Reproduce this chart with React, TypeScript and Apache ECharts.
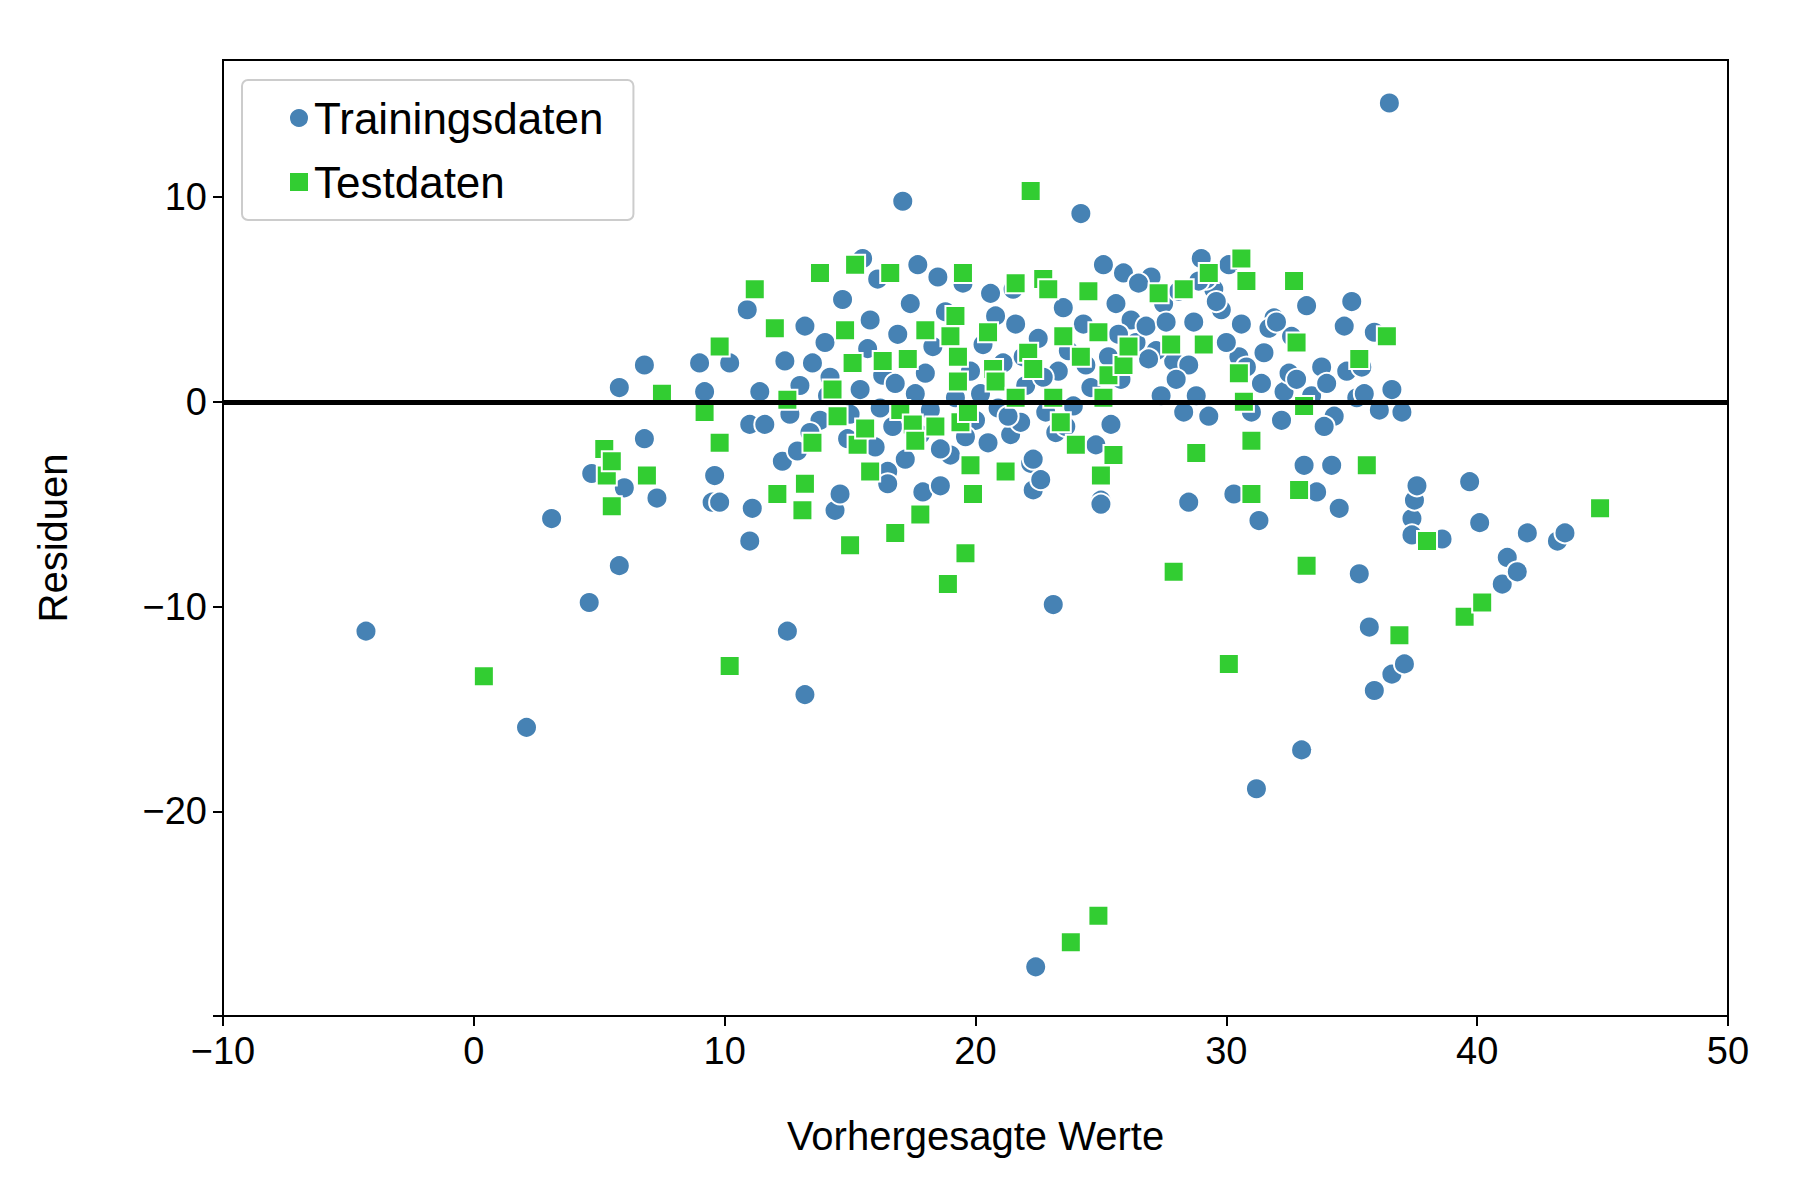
import React, { useEffect, useRef } from "react";
import * as echarts from "echarts";

// Trainingsdaten: [vorhergesagt, residuum]
const trainData: number[][] = [
  [-4.3, -11.2], [2.1, -15.9], [3.1, -5.7], [4.6, -9.8], [4.7, -3.5], [5.8, -8], [5.8, 0.7], [6, -4.2],
  [6.8, 1.8], [6.8, -1.8], [7.3, -4.7], [9, 1.9], [9.2, 0.5], [9.5, -4.9], [9.6, -3.6], [9.8, -4.9],
  [10.2, 1.9], [10.9, 4.5], [11, -1.1], [11, -6.8], [11.1, -5.2], [11.4, 0.5], [11.6, -1.1], [12.3, -2.9],
  [12.5, -11.2], [12.4, 2], [12.9, -2.4], [13.2, -14.3], [13.2, 3.7], [13.5, 1.9], [14, 2.9], [14.4, -5.3],
  [14.6, -4.5], [14.7, 5], [15.5, 7], [15.8, 4], [16.1, 6], [16.5, -3.4], [16.5, -4], [17.1, 9.8],
  [17.4, 4.8], [17.7, 6.7], [17.9, -4.4], [18, 1.4], [18.5, 6.1], [18.6, -4.1], [19.5, 5.8], [20.5, -2],
  [20.6, 5.3], [20.8, 4.2], [21.4, -1.6], [21.6, 3.8], [21.5, 5.5], [22.2, -3], [22.3, -2.8], [22.3, -4.3],
  [22.4, -27.6], [22.6, -3.8], [23.1, -9.9], [23.2, -1.5], [23.5, 4.6], [24.2, 9.2], [25, -4.8], [25, -5],
  [25.1, 6.7], [25.4, -1.1], [25.6, 4.8], [25.9, 6.3], [26.2, 4], [27, 6.1], [27.5, 4.8], [27.9, 2],
  [28.3, -0.5], [28.5, -4.9], [28.5, 1.8], [28.8, 0.3], [29, 7], [29.3, -0.7], [29.5, 5.5], [29.8, 4.5],
  [30.3, -4.5], [30.5, 2.2], [31.2, -18.9], [31.3, -5.8], [31.5, 2.4], [31.9, 4.1], [32.2, -0.9], [32.3, 0.5],
  [33, -17], [33.1, -3.1], [33.2, 4.7], [33.6, -4.4], [33.8, 1.7], [34.2, -3.1], [34.3, -0.7], [34.5, -5.2],
  [34.7, 3.7], [35, 4.9], [35.3, -8.4], [35.7, -11], [35.9, -14.1], [35.9, 3.4], [36.1, -0.4], [36.5, 14.6],
  [36.6, 0.6], [36.6, -13.3], [37, -0.5], [37.1, -12.8], [37.4, -5.7], [37.4, -6.5], [37.5, -4.8], [37.6, -4.1],
  [38.6, -6.7], [39.7, -3.9], [40.1, -5.9], [41, -8.9], [41.2, -7.6], [41.6, -8.3], [42, -6.4], [43.2, -6.8],
  [43.5, -6.4],
  // dichter Kern
  [12.6, -0.6], [13, 0.8], [13.8, -0.9], [14.2, 1.2], [14.9, -1.8], [15.4, 0.6], [15.7, 2.6], [16, -2.2],
  [16.3, 1.3], [16.7, -1.2], [16.9, 3.3], [17.2, -2.8], [17.6, 0.4], [18.2, -0.4], [18.3, 2.7], [18.8, 4.4],
  [19, -2.6], [19.2, 0.2], [19.8, 1.5], [20, -0.9], [20.3, 2.8], [20.9, -0.3], [21.1, 1.9], [21.8, -1], [22, 0.8],
  [22.5, 3.1], [22.8, -0.5], [23.3, 1.5], [23.7, 2.5], [23.9, -0.2], [24.3, 3.8], [24.6, 0.7], [24.8, -2.1],
  [25.3, 2.2], [25.8, 1.1], [26.4, 2.9], [26.8, 3.7], [27.2, 2.5], [27.6, 3.9], [28, 1.1], [28.1, 5.4],
  [28.7, 3.9], [29.2, 6], [30, 2.9], [30.8, 1.7], [31, -0.5], [31.7, 3.6], [32.5, 1.4], [32.6, 3.2],
  [33.4, 0.3], [34, 0.9], [34.8, 1.5], [35.2, 0.2], [35.5, 0.4], [32, 3.9], [30.1, 6.7], [26.5, 5.8],
  [13.4, -1.5], [14.1, 0.3], [15, -0.6], [16.2, -0.3], [16.8, 0.9], [17.8, -1.6], [18.6, -2.3], [19.6, -1.7],
  [20.2, 0.4], [21.3, -0.7], [21.9, 2.2], [22.7, 1.2], [23.6, -1.2], [24.4, 1.8], [25.7, 3.3], [26.9, 2.1],
  [27.4, 0.3], [29.6, 4.9], [30.6, 3.8], [31.4, 0.9], [32.8, 1.1], [33.9, -1.2], [35.4, 1.7], [28.9, 5.9],
];

// Testdaten
const testData: number[][] = [
  [0.4, -13.4], [5.2, -2.3], [5.3, -3.6], [5.5, -5.1], [5.5, -2.9], [6.9, -3.6], [7.5, 0.4], [9.2, -0.5],
  [9.8, 2.7], [9.8, -2], [10.2, -12.9], [11.2, 5.5], [12, 3.6], [12.1, -4.5], [12.5, 0.1], [13.1, -5.3],
  [13.2, -4], [13.5, -2], [13.8, 6.3], [14.3, 0.6], [14.5, -0.7], [14.8, 3.5], [15, -7], [15.1, 1.9],
  [15.2, 6.7], [15.3, -2.1], [15.6, -1.3], [15.8, -3.4], [16.3, 2], [16.6, 6.3], [16.8, -6.4], [17, -0.4],
  [17.3, 2.1], [17.5, -1.1], [17.6, -1.9], [17.8, -5.5], [18, 3.5], [18.4, -1.2], [18.9, -8.9], [19, 3.2],
  [19.2, 4.2], [19.3, 2.2], [19.3, 1], [19.4, -1], [19.5, 6.3], [19.6, -7.4], [19.7, -0.5], [19.8, -3.1],
  [19.9, -4.5], [20.5, 3.4], [20.7, 1.6], [20.8, 1], [21.2, -3.4], [21.6, 5.8], [21.6, 0.2], [22.1, 2.4],
  [22.2, 10.3], [22.3, 1.6], [22.7, 6], [22.9, 5.5], [23.1, 0.2], [23.4, -1], [23.5, 3.2], [23.8, -26.4],
  [24, -2.1], [24.2, 2.2], [24.5, 5.4], [24.9, -25.1], [24.9, 3.4], [25, -3.6], [25.1, 0.2], [25.3, 1.3],
  [25.5, -2.6], [25.9, 1.8], [26.1, 2.7], [27.3, 5.3], [27.8, 2.8], [27.9, -8.3], [28.3, 5.5], [28.8, -2.5],
  [29.1, 2.8], [29.3, 6.3], [30.1, -12.8], [30.5, 1.4], [30.6, 7], [30.7, 0], [30.8, 5.9], [31, -4.5],
  [31, -1.9], [32.7, 5.9], [32.8, 2.9], [32.9, -4.3], [33.1, -0.2], [33.2, -8], [35.3, 2.1], [35.6, -3.1],
  [36.4, 3.2], [36.9, -11.4], [38, -6.8], [39.5, -10.5], [40.2, -9.8], [44.9, -5.2],
];

const FONT = "Liberation Sans";
const minus = (v: number) => (v < 0 ? "\u2212" + Math.abs(v) : String(v));

export default function App() {
  const ref = useRef<HTMLDivElement>(null);

  useEffect(() => {
    const chart = echarts.init(ref.current!, undefined, { renderer: "svg" });
    chart.setOption({
      animation: false,
      backgroundColor: "#fff",
      grid: { left: 215, right: 64, top: 52, bottom: 176, show: true, borderColor: "#000", borderWidth: 2 },
      legend: {
        left: 234,
        top: 72,
        orient: "vertical",
        padding: [16, 30, 16, 46],
        itemGap: 20,
        itemWidth: 20,
        itemHeight: 20,
        borderColor: "#ccc",
        borderWidth: 2,
        borderRadius: 6,
        textStyle: { fontFamily: FONT, fontSize: 44, color: "#000" },
        data: [
          { name: "Trainingsdaten", icon: "circle" },
          { name: "Testdaten", icon: "rect" },
        ],
      },
      xAxis: {
        type: "value",
        min: -10,
        max: 50,
        interval: 10,
        name: "Vorhergesagte Werte",
        nameLocation: "middle",
        nameGap: 100,
        nameTextStyle: { fontFamily: FONT, fontSize: 40, color: "#000" },
        axisLine: { show: true, onZero: false, lineStyle: { color: "#000", width: 2 } },
        axisTick: { show: true, length: 10, lineStyle: { color: "#000", width: 2 } },
        axisLabel: { fontFamily: FONT, fontSize: 38, color: "#000", margin: 16, formatter: minus },
        splitLine: { show: false },
      },
      yAxis: {
        type: "value",
        min: -30,
        max: 16.7,
        interval: 10,
        name: "Residuen",
        nameLocation: "middle",
        nameGap: 150,
        nameTextStyle: { fontFamily: FONT, fontSize: 40, color: "#000" },
        axisLine: { show: true, onZero: false, lineStyle: { color: "#000", width: 2 } },
        axisTick: { show: true, length: 10, lineStyle: { color: "#000", width: 2 } },
        axisLabel: {
          fontFamily: FONT, fontSize: 38, color: "#000", margin: 16,
          showMaxLabel: false,
          formatter: (v: number) => (v === -30 || v > 15 ? "" : minus(v)),
        },
        splitLine: { show: false },
      },
      series: [
        {
          name: "Trainingsdaten",
          type: "scatter",
          symbol: "circle",
          symbolSize: 21,
          itemStyle: { color: "#4682b4", borderColor: "#fff", borderWidth: 2, opacity: 1 },
          data: trainData,
          z: 2,
        },
        {
          name: "Testdaten",
          type: "scatter",
          symbol: "rect",
          symbolSize: 20,
          itemStyle: { color: "#32cd32", borderColor: "#fff", borderWidth: 2, opacity: 1 },
          data: testData,
          z: 3,
          markLine: {
            silent: true,
            symbol: "none",
            label: { show: false },
            lineStyle: { color: "#000", width: 5, type: "solid" },
            data: [{ yAxis: 0 }],
          },
        },
      ],
    });
    return () => chart.dispose();
  }, []);

  return <div ref={ref} style={{ width: 1784, height: 1184 }} />;
}
